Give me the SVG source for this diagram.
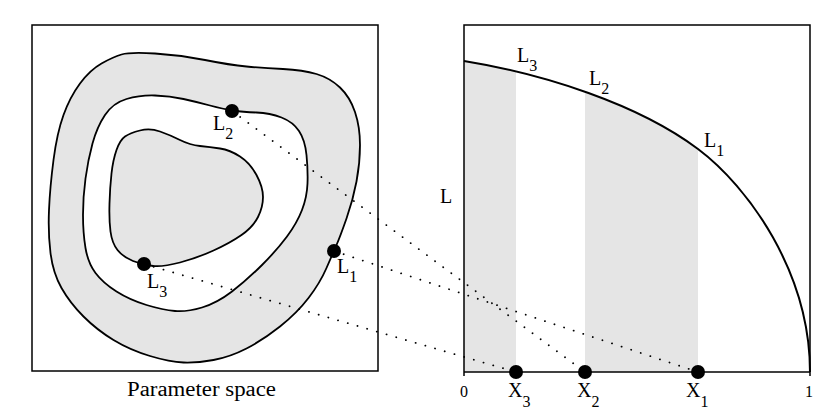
<svg xmlns="http://www.w3.org/2000/svg" width="833" height="415" viewBox="0 0 833 415">
<style>
.box{fill:none;stroke:#000;stroke-width:1.5}
.contour{stroke:#000;stroke-width:1.8}
.gray{fill:#e5e5e5}
.white{fill:#fff}
.dot{fill:#000}
.conn{fill:none;stroke:#000;stroke-width:1.8;stroke-dasharray:0.1 10;stroke-linecap:round}
text{font-family:"Liberation Serif","Times New Roman",serif;fill:#000}
.lab{font-size:20px}
.sub{font-size:16px}
.tick{font-size:16px}
</style>
<defs>
<clipPath id="under">
<path d="M464,372 L464,61 C544,74 638,104 698,149 C748,186.5 810,272 810,372 Z"/>
</clipPath>
</defs>
<rect width="833" height="415" fill="#fff"/>

<g id="parameter-space">
<rect class="box" x="32" y="25" width="346" height="346"/>
<path class="contour gray" d="M121.5,54.5 Q130,52 155,53.5 Q180,55 205,60 Q230,65 246.5,66.5 Q263,68 283,69 Q303,70 316.5,74 Q330,78 340,87.5 Q350,97 355,112 Q360,127 360,145 Q360,163 356.5,181.5 Q353,200 346.5,218.5 Q340,237 336.5,245 Q333,253 326.5,268 Q320,283 308.5,298 Q297,313 280,326.5 Q263,340 246.5,348.5 Q230,357 213.5,360 Q197,363 183.5,362.5 Q170,362 150,356 Q130,350 113.5,340 Q97,330 83.5,316.5 Q70,303 61.5,288 Q53,273 50.5,253 Q48,233 49,210 Q50,187 53.5,160 Q57,133 63.5,115 Q70,97 80,83.5 Q90,70 101.5,63.5 Q113,57 121.5,54.5 Z"/>
<path class="contour white" d="M105,115 Q113,103 126.5,99 Q140,95 155,95.5 Q170,96 183.5,99 Q197,102 210,105.5 Q223,109 233,110.5 Q243,112 256.5,112.5 Q270,113 281.5,117.5 Q293,122 299,131 Q305,140 306.5,155 Q308,170 307.5,183.5 Q307,197 302,210 Q297,223 287,236.5 Q277,250 262,265 Q247,280 232,291.5 Q217,303 202,307.5 Q187,312 175,311 Q163,310 146.5,305 Q130,300 116.5,291.5 Q103,283 95.5,273 Q88,263 85.5,248 Q83,233 83,215 Q83,197 85.5,178.5 Q88,160 92.5,143.5 Q97,127 105,115 Z"/>
<path class="contour gray" d="M125,136.5 Q130,133 140,130.5 Q150,128 160,131.5 Q170,135 180,140 Q190,145 200,146 Q210,147 220,148.5 Q230,150 240,156.5 Q250,163 256.5,175 Q263,187 263,197 Q263,207 258,217 Q253,227 241.5,235 Q230,243 213.5,250.5 Q197,258 180,262.5 Q163,267 153,266 Q143,265 133,261 Q123,257 117.5,250 Q112,243 110.5,231.5 Q109,220 109.5,203.5 Q110,187 111.5,173.5 Q113,160 116.5,150 Q120,140 125,136.5 Z"/>
<text x="127" y="396" font-size="20" textLength="149" lengthAdjust="spacingAndGlyphs">Parameter space</text>
</g>

<g id="frontier-plot">
<g clip-path="url(#under)">
<rect class="gray" x="464" y="25" width="52" height="347"/>
<rect class="gray" x="585" y="25" width="113" height="347"/>
</g>
<path class="box" d="M464,376 L464,25 L810,25 L810,376"/>
<line class="box" x1="464" y1="372" x2="810" y2="372"/>
<path fill="none" stroke="#000" stroke-width="2" d="M464,61 C544,74 638,104 698,149 C748,186.5 810,272 810,372"/>
<text class="lab" x="440" y="203">L</text>
<text class="tick" x="460" y="397">0</text>
<text class="tick" x="805" y="397">1</text>
<text class="lab" x="517" y="62">L<tspan class="sub" dy="9">3</tspan></text>
<text class="lab" x="589" y="85">L<tspan class="sub" dy="9">2</tspan></text>
<text class="lab" x="704" y="147">L<tspan class="sub" dy="9">1</tspan></text>
</g>

<g id="connectors">
<line class="conn" x1="232" y1="111" x2="585" y2="372"/>
<line class="conn" x1="334" y1="251" x2="698" y2="372"/>
<line class="conn" x1="144" y1="264" x2="516" y2="372"/>
</g>

<g id="L2">
<circle class="dot" cx="232" cy="111" r="7"/>
<text class="lab" x="213" y="130">L<tspan class="sub" dy="9">2</tspan></text>
</g>
<g id="L1">
<circle class="dot" cx="334" cy="251" r="7"/>
<text class="lab" x="337" y="273">L<tspan class="sub" dy="9">1</tspan></text>
</g>
<g id="L3">
<circle class="dot" cx="144" cy="264" r="7"/>
<text class="lab" x="147" y="288">L<tspan class="sub" dy="9">3</tspan></text>
</g>
<g id="X3">
<circle class="dot" cx="516" cy="372" r="7"/>
<text class="lab" x="508" y="397">X<tspan class="sub" dy="10">3</tspan></text>
</g>
<g id="X2">
<circle class="dot" cx="585" cy="372" r="7"/>
<text class="lab" x="577" y="397">X<tspan class="sub" dy="10">2</tspan></text>
</g>
<g id="X1">
<circle class="dot" cx="698" cy="372" r="7"/>
<text class="lab" x="686" y="397">X<tspan class="sub" dy="10">1</tspan></text>
</g>
</svg>
